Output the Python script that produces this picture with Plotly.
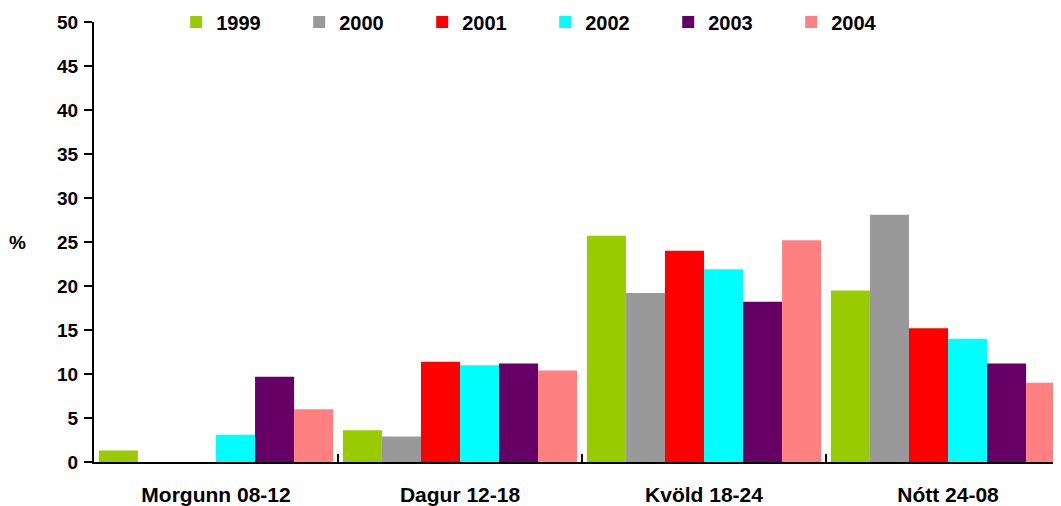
import plotly.graph_objects as go

categories = ["Morgunn 08-12", "Dagur 12-18", "Kvöld 18-24", "Nótt 24-08"]
years = ["1999", "2000", "2001", "2002", "2003", "2004"]
values_1999 = [1.3, 3.6, 25.7, 19.5]
values_2000 = [0, 2.9, 19.2, 28.1]
values_2001 = [0, 11.4, 24.0, 15.2]
values_2002 = [3.1, 11.0, 21.9, 14.0]
values_2003 = [9.7, 11.2, 18.2, 11.2]
values_2004 = [6.0, 10.4, 25.2, 9.0]
series = [values_1999, values_2000, values_2001, values_2002, values_2003, values_2004]
colors = ["#99CC00", "#999999", "#FF0000", "#00FFFF", "#660066", "#FF8080"]
y_ticks = list(range(0, 55, 5))

FONT = "Liberation Sans, Arial, sans-serif"

fig = go.Figure()
for name, vals, col in zip(years, series, colors):
    fig.add_trace(go.Bar(name=name, x=categories, y=vals, marker=dict(color=col, line=dict(width=0))))

# the page body has an 8px margin, so the figure is sized/offset to compensate
fig.update_layout(
    width=1053, height=498,
    margin=dict(l=86, r=0, t=14, b=44, pad=0, autoexpand=False),
    paper_bgcolor="white", plot_bgcolor="white",
    barmode="group", bargap=0.04, bargroupgap=0,
    font=dict(family=FONT, size=20, color="black", weight="bold"),
    legend=dict(
        orientation="h", x=0.085, xanchor="left", y=1, yanchor="middle",
        entrywidth=78, entrywidthmode="pixels",
        font=dict(family=FONT, size=20, color="black", weight="bold"),
        bgcolor="rgba(0,0,0,0)", traceorder="normal",
    ),
    xaxis=dict(
        range=[-0.5, 3.463], showline=True, linecolor="black", linewidth=2,
        ticks="inside", tickson="boundaries", ticklen=8, tickwidth=2, tickcolor="black",
        showgrid=False, zeroline=False, ticklabelstandoff=13, automargin=False,
        tickfont=dict(family=FONT, size=21, color="black", weight="bold"),
    ),
    yaxis=dict(
        range=[0, 50], tickvals=y_ticks, showline=True, linecolor="black", linewidth=2,
        ticks="outside", ticklen=8, tickwidth=2, tickcolor="black",
        showgrid=False, zeroline=False, ticklabelstandoff=2, automargin=False,
        tickfont=dict(family=FONT, size=19, color="black", weight="bold"),
    ),
    annotations=[dict(text="%", xref="paper", yref="paper", x=-0.079, y=0.5,
                      xanchor="center", yanchor="middle", showarrow=False,
                      font=dict(family=FONT, size=19, color="black", weight="bold"))],
)

fig.write_html("out.html")
